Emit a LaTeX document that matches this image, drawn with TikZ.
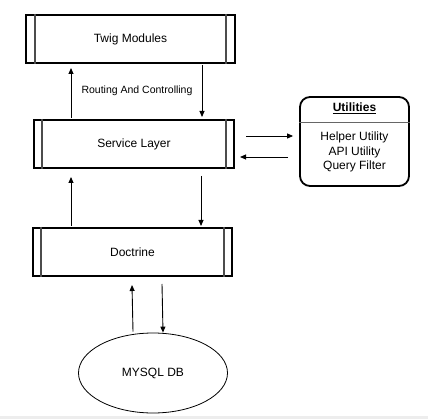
\documentclass[tikz,border=0pt]{standalone}
\usepackage{fontspec}
\setmainfont{Liberation Sans}
\usetikzlibrary{arrows.meta,calc,shapes.geometric}
\begin{document}
\begin{tikzpicture}[x=1pt,y=-1pt,
  layerbox/.style={draw,line width=2pt,minimum height=48pt,inner sep=0pt,font=\fontsize{12}{14}\selectfont},
  innerline/.style={draw=black!70,line width=1.3pt},
  arr/.style={-{Triangle[length=6pt,width=5pt]},line width=0.9pt},
  lbl/.style={font=\fontsize{10.5}{12}\selectfont},
]
\useasboundingbox (0,0) rectangle (428,419);
\fill[black!7] (0,416) rectangle (428,419);

% layers
\node[layerbox,minimum width=209pt] (twig) at (130.5,39) {Twig Modules};
\node[layerbox,minimum width=200pt] (service) at (134,144) {Service Layer};
\node[layerbox,minimum width=199pt] (doctrine) at (132.5,252) {Doctrine};

\foreach \n/\d in {twig/10,service/9,doctrine/9}{
  \draw[innerline] ($(\n.north west)+(\d,0)$) -- ($(\n.south west)+(\d,0)$);
  \draw[innerline] ($(\n.north east)+(-\d,0)$) -- ($(\n.south east)+(-\d,0)$);
}

% utilities
\node[draw,line width=1.8pt,rounded corners=10pt,minimum width=109pt,minimum height=89pt,inner sep=0pt] (util) at (354.5,141.5) {};
\node[font=\bfseries\fontsize{12}{14}\selectfont] (utitle) at (354.5,108) {\underline{Utilities}};
\draw[black!60,line width=1pt] ($(util.west)+(0,-18.5)$) coordinate (sepl) -- ($(util.east)+(0,-18.5)$) coordinate (sepr);
\node[align=center,font=\fontsize{12}{14.5}\selectfont,inner sep=0pt] (ulist) at (354.5,152) {Helper Utility\\API Utility\\Query Filter};

% database
\node[draw,ellipse,line width=0.8pt,minimum width=149pt,minimum height=80pt,inner sep=0pt,font=\fontsize{12}{14}\selectfont] (db) at (153,373) {MYSQL DB};

% arrows twig <-> service
\draw[arr] ($(service.north west)+(38,-1)$) -- ($(twig.south west)+(46,4)$);
\draw[arr] ($(twig.south west)+(177,1)$) -- ($(service.north west)+(169,-2)$);
\node[lbl] (route) at (137,91) {Routing And Controlling};

% arrows service <-> utilities
\draw[arr] ($(service.east)+(11,-8)$) -- ($(util.west)+(-6,-5.5)$);
\draw[arr] ($(util.west)+(-11,15.5)$) -- ($(service.east)+(5,13)$);

% arrows service <-> doctrine
\draw[arr] ($(doctrine.north west)+(39,-1)$) -- ($(service.south west)+(38,8)$);
\draw[arr] ($(service.south west)+(168,7)$) -- ($(doctrine.north west)+(169,-1)$);

% arrows doctrine <-> db
\draw[arr] ($(db.north)+(-20,-1)$) -- ($(doctrine.south west)+(100,8)$);
\draw[arr] ($(doctrine.south west)+(130,7)$) -- ($(db.north)+(10,0)$);
\end{tikzpicture}
\end{document}
